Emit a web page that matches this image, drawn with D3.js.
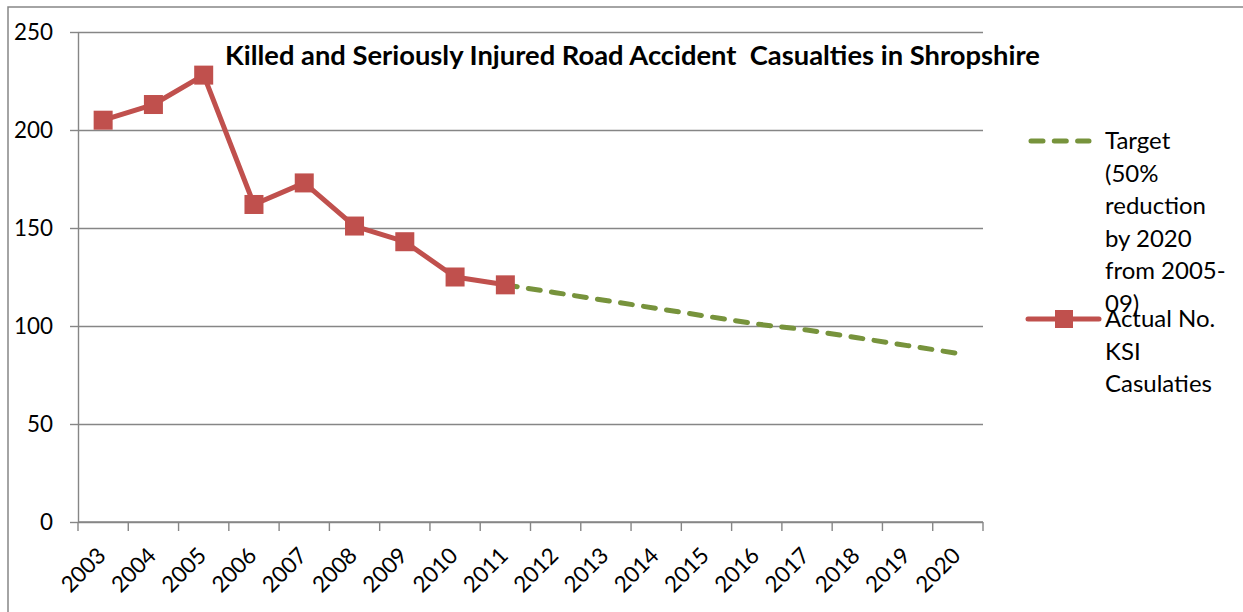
<!DOCTYPE html>
<html>
<head>
<meta charset="utf-8">
<script src="https://cdn.jsdelivr.net/npm/d3@7"></script>
<style>
  html, body { margin: 0; padding: 0; background: #fff; }
  svg { display: block; }
  text { font-family: Lato, "Open Sans", sans-serif; fill: #000; }
  .title { white-space: pre; }
</style>
</head>
<body>
<svg id="chart" width="1243" height="612"></svg>
<script>
// ---- data ----
const years = ["2003","2004","2005","2006","2007","2008","2009","2010","2011",
               "2012","2013","2014","2015","2016","2017","2018","2019","2020"];
const actualYears = ["2003","2004","2005","2006","2007","2008","2009","2010","2011"];
const actualValues = [205, 213, 228, 162, 173, 151, 143, 125, 121];
const targetYears = ["2011","2012","2013","2014","2015","2016","2017","2018","2019","2020"];
const targetValues = [121, 117, 113, 109, 105, 101, 98, 94, 90, 86];
const yTicks = [0, 50, 100, 150, 200, 250];
const titleText = "Killed and Seriously Injured Road Accident  Casualties in Shropshire";
const targetLegend = ["Target", "(50%", "reduction", "by 2020", "from 2005-", "09)"];
const actualLegend = ["Actual No.", "KSI", "Casulaties"];

// ---- setup ----
const svg = d3.select("#chart");
const plotLeft = 78, plotRight = 983, plotTop = 32, plotBottom = 522;
const gridColor = "#868686";
const red = "#C0504D", green = "#77933C";

const x = d3.scaleBand().domain(years).range([plotLeft, plotRight]).padding(0);
const y = d3.scaleLinear().domain([0, 250]).range([plotBottom, plotTop]);
const cx = d => x(d) + x.bandwidth() / 2;

function fitFont(str, targetWidth, base, weight, cls) {
  const t = svg.append("text").attr("class", cls || null).attr("font-size", base)
    .attr("font-weight", weight || "normal").text(str);
  const w = t.node().getComputedTextLength();
  t.remove();
  return base * targetWidth / w;
}
const tickFont = fitFont("250", 39, 20);
const legendFont = fitFont("Casulaties", 107, 20);

// outer border
svg.append("rect").attr("x", 8).attr("y", 7).attr("width", 1260).attr("height", 620)
  .attr("fill", "none").attr("stroke", gridColor).attr("stroke-width", 1.5);

// gridlines
svg.append("g").attr("transform", `translate(${plotLeft},0)`)
  .call(d3.axisLeft(y).tickValues(yTicks).tickSize(-(plotRight - plotLeft)).tickFormat(""))
  .call(g => g.select(".domain").remove())
  .call(g => g.selectAll("line").attr("stroke", gridColor).attr("stroke-width", 1.4));

// y axis
svg.append("g").attr("transform", `translate(${plotLeft},0)`)
  .call(d3.axisLeft(y).tickValues(yTicks).tickSize(8).tickSizeOuter(0).tickPadding(17))
  .call(g => g.select(".domain").attr("stroke", gridColor).attr("stroke-width", 1.4))
  .call(g => g.selectAll("line").attr("stroke", gridColor).attr("stroke-width", 1.4))
  .call(g => g.selectAll("text").attr("font-size", tickFont).attr("font-family", "Lato").attr("fill", "#000"));

// x axis line
svg.append("line").attr("x1", plotLeft).attr("x2", plotRight).attr("y1", y(0)).attr("y2", y(0))
  .attr("stroke", gridColor).attr("stroke-width", 1.4);
// x tick marks at band boundaries
const bounds = years.map(d => x(d)).concat([plotRight]);
svg.append("g").selectAll("line").data(bounds).join("line")
  .attr("x1", d => d).attr("x2", d => d).attr("y1", y(0)).attr("y2", y(0) + 9)
  .attr("stroke", gridColor).attr("stroke-width", 1.4);
// x labels
svg.append("g").selectAll("text").data(years).join("text")
  .attr("transform", d => `translate(${cx(d) + 4},${y(0) + 35}) rotate(-45)`)
  .attr("text-anchor", "end")
  .attr("font-size", tickFont)
  .text(d => d);

// target line
const line = d3.line().x(d => cx(d[0])).y(d => y(d[1]));
svg.append("path").datum(targetYears.map((d, i) => [d, targetValues[i]]))
  .attr("d", line).attr("fill", "none").attr("stroke", green)
  .attr("stroke-width", 5).attr("stroke-linecap", "round")
  .attr("stroke-dasharray", "12,11.3");

// actual line
const actualData = actualYears.map((d, i) => [d, actualValues[i]]);
svg.append("path").datum(actualData)
  .attr("d", line).attr("fill", "none").attr("stroke", red)
  .attr("stroke-width", 5).attr("stroke-linejoin", "round");
const ms = 19;
svg.append("g").selectAll("rect").data(actualData).join("rect")
  .attr("x", d => cx(d[0]) - ms / 2).attr("y", d => y(d[1]) - ms / 2)
  .attr("width", ms).attr("height", ms).attr("fill", red);

// title
const tf = fitFont(titleText, 815, 20, "bold", "title");
svg.append("text").attr("class", "title").attr("x", 225).attr("y", 65)
  .attr("font-size", tf).attr("font-weight", "bold")
  .text(titleText);

// legend
const lg = svg.append("g");
lg.append("line").attr("x1", 1031).attr("x2", 1089).attr("y1", 141).attr("y2", 141)
  .attr("stroke", green).attr("stroke-width", 5).attr("stroke-linecap", "round")
  .attr("stroke-dasharray", "12,11.3");
lg.append("line").attr("x1", 1028).attr("x2", 1099).attr("y1", 319).attr("y2", 319)
  .attr("stroke", red).attr("stroke-width", 5).attr("stroke-linecap", "round");
lg.append("rect").attr("x", 1064 - 9).attr("y", 319 - 9).attr("width", 18).attr("height", 18)
  .attr("fill", red);
lg.append("text").attr("font-size", legendFont).selectAll("tspan").data(targetLegend).join("tspan")
  .attr("x", 1105).attr("y", (d, i) => 149 + i * 32.5).text(d => d);
lg.append("text").attr("font-size", legendFont).selectAll("tspan").data(actualLegend).join("tspan")
  .attr("x", 1105).attr("y", (d, i) => 327 + i * 32.5).text(d => d);
</script>
</body>
</html>
